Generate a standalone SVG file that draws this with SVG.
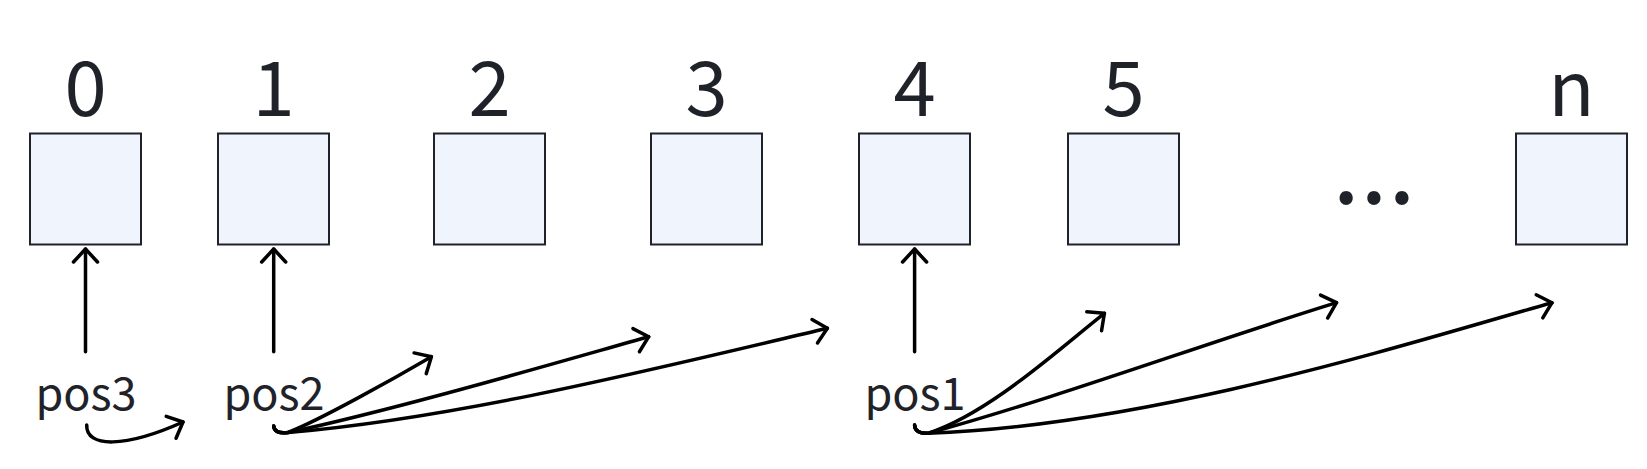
<svg xmlns="http://www.w3.org/2000/svg" width="1647" height="469" viewBox="0 0 1647 469">
<style>
.box{fill:#F0F4FC;stroke:#1f2329;stroke-width:2}
.idx{font-family:"Noto Sans CJK SC","Liberation Sans",sans-serif;font-size:76px;fill:#1f2329;text-anchor:middle}
.ptr{font-family:"Noto Sans CJK SC","Liberation Sans",sans-serif;font-size:45px;fill:#1f2329;text-anchor:middle}
.dots{font-family:"Noto Sans CJK SC","Liberation Sans",sans-serif;font-size:100px;fill:#1f2329;text-anchor:middle}
.conn{fill:none;stroke:#000;stroke-width:3.5;stroke-linecap:round;stroke-linejoin:round}
</style>
<defs>
<marker id="ah" markerUnits="userSpaceOnUse" markerWidth="30" markerHeight="30" viewBox="-15 -15 30 30" refX="0" refY="0" orient="auto" overflow="visible">
<path d="M-13,-12 L0,0 L-13,12" fill="none" stroke="#000" stroke-width="3.5" stroke-linecap="round" stroke-linejoin="round"/>
</marker>
</defs>
<rect width="1647" height="469" fill="#fff"/>
<g id="node-0"><rect class="box" x="30" y="133.5" width="111" height="111"/><text class="idx" x="85.5" y="115.5">0</text></g>
<g id="node-1"><rect class="box" x="218" y="133.5" width="111" height="111"/><text class="idx" x="273.5" y="115.5">1</text></g>
<g id="node-2"><rect class="box" x="434" y="133.5" width="111" height="111"/><text class="idx" x="489.5" y="115.5">2</text></g>
<g id="node-3"><rect class="box" x="651" y="133.5" width="111" height="111"/><text class="idx" x="706.5" y="115.5">3</text></g>
<g id="node-4"><rect class="box" x="859" y="133.5" width="111" height="111"/><text class="idx" x="914.5" y="115.5">4</text></g>
<g id="node-5"><rect class="box" x="1068" y="133.5" width="111" height="111"/><text class="idx" x="1123.5" y="115.5">5</text></g>
<g id="node-n"><rect class="box" x="1516" y="133.5" width="111" height="111"/><text class="idx" x="1571.5" y="115.5">n</text></g>
<g id="ellipsis"><text class="dots" x="1374" y="203.5">...</text></g>
<g id="pos3"><text class="ptr" x="86" y="410">pos3</text></g>
<g id="pos2"><text class="ptr" x="274" y="410">pos2</text></g>
<g id="pos1"><text class="ptr" x="915" y="410">pos1</text></g>
<g id="connectors">
<path class="conn" d="M85.5,351.7 L85.5,249" marker-end="url(#ah)"/>
<path class="conn" d="M273.7,351.7 L273.7,249" marker-end="url(#ah)"/>
<path class="conn" d="M914.6,351.7 L914.6,249" marker-end="url(#ah)"/>
<path class="conn" d="M86.7,425 C86,448 125,448 183,422" marker-end="url(#ah)"/>
<path class="conn" d="M273.7,426 Q274,434 288,432.5 C320,420 395,378 431.4,356.7" marker-end="url(#ah)"/>
<path class="conn" d="M273.7,426 Q274,434 288,432.5 C400,408.5 560,361.6 648.7,336.7" marker-end="url(#ah)"/>
<path class="conn" d="M273.7,426 Q274,434 288,432.5 C460,418 660,367.6 827.4,328.3" marker-end="url(#ah)"/>
<path class="conn" d="M914.6,425 Q915,434 928,433.3 C990,413 1060,348 1104.4,313.3" marker-end="url(#ah)"/>
<path class="conn" d="M914.6,425 Q915,434 928,433.3 C1060,397 1200,345 1336.5,302.7" marker-end="url(#ah)"/>
<path class="conn" d="M914.6,425 Q915,434 928,433.3 C1150,425 1400,346 1552,302.7" marker-end="url(#ah)"/>
</g>
</svg>
